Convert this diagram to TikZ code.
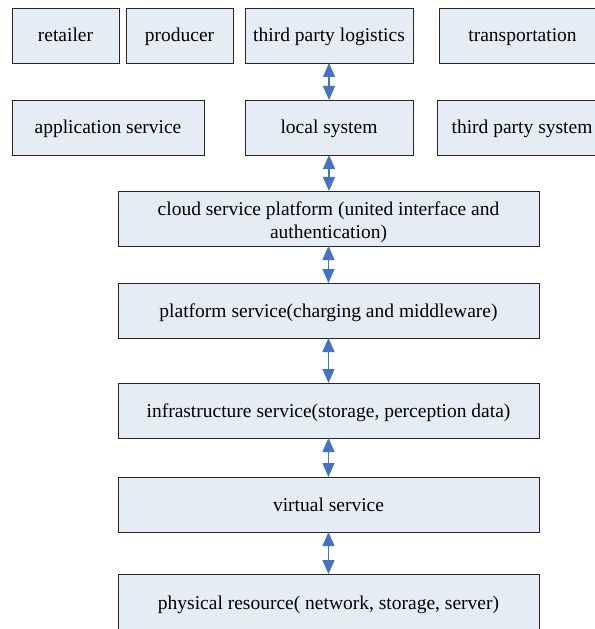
\documentclass[tikz,border=0pt]{standalone}
\usepackage{fontspec}
\setmainfont{Liberation Serif}
\usetikzlibrary{arrows.meta}
\definecolor{boxfill}{HTML}{E6ECF6}
\definecolor{arrowblue}{HTML}{4472C4}
\begin{document}
\begin{tikzpicture}[x=1bp,y=-1bp,
 box/.style={draw=black!85, line width=0.9bp, fill=boxfill, inner sep=0pt, outer sep=0pt,
   minimum height=55bp, text height=17bp, text depth=4bp,
   font=\fontsize{19.5bp}{23bp}\selectfont, align=center},
 link/.style={arrowblue, line width=1.3bp,
   {Triangle[width=12bp,length=14bp]}-{Triangle[width=12bp,length=14bp]}}]
\clip (0,0) rectangle (595,629);
% top row
\node[box, minimum width=107bp] (retailer) at (65.5,35.5) {retailer};
\node[box, minimum width=107bp] (producer) at (179.5,35.5) {producer};
\node[box, minimum width=168bp] (tpl) at (329,35.5) {third party logistics};
\node[box, minimum width=167bp] (transport) at (522.5,35.5) {transportation};
% second row
\node[box, minimum width=192bp] (app) at (108,127.5) {application service};
\node[box, minimum width=168bp] (local) at (329,127.5) {local system};
\node[box, minimum width=170bp] (tps) at (522,127.5) {third party system};
% layers
\node[box, minimum width=421bp, text height=43bp, text depth=4bp] (cloud) at (328.5,218.5) {cloud service platform (united interface and\\authentication)};
\node[box, minimum width=421bp] (platform) at (328.5,310.5) {platform service(charging and middleware)};
\node[box, minimum width=421bp] (infra) at (328.5,410.5) {infrastructure service(storage, perception data)};
\node[box, minimum width=421bp] (virtual) at (328.5,504.5) {virtual service};
\node[box, minimum width=421bp, minimum height=58bp] (physical) at (328.5,603) {physical resource( network, storage, server)};
% connectors
\draw[link] (tpl.south) -- (local.north);
\draw[link] (local.south) -- (local.south |- cloud.north);
\draw[link] (cloud.south) -- (platform.north);
\draw[link] (platform.south) -- (infra.north);
\draw[link] (infra.south) -- (virtual.north);
\draw[link] (virtual.south) -- (physical.north);
\end{tikzpicture}
\end{document}
